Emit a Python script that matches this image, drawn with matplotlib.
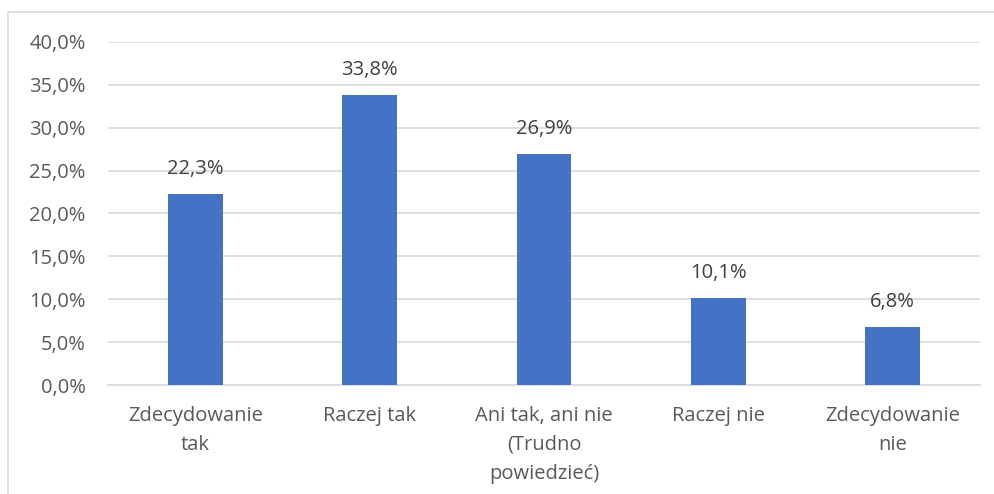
import matplotlib.pyplot as plt
from matplotlib.patches import Rectangle
from matplotlib.ticker import FuncFormatter

categories = ["Zdecydowanie\ntak", "Raczej tak", "Ani tak, ani nie\n(Trudno\npowiedzieć)",
              "Raczej nie", "Zdecydowanie\nnie"]
values = [22.3, 33.8, 26.9, 10.1, 6.8]
yticks = [0, 5, 10, 15, 20, 25, 30, 35, 40]

W, H = 995, 494
plt.rcParams['font.family'] = ['Open Sans', 'DejaVu Sans']
FS = 14.5

fig = plt.figure(figsize=(W / 100, H / 100), dpi=100)
ax = fig.add_axes([108 / W, 1 - 385 / H, (980 - 108) / W, (385 - 42) / H])

# chart border (cut off on right and bottom in the reference)
fig.patches.append(Rectangle((8 / W, -0.1), 1.2, 1 - 12 / H + 0.1, transform=fig.transFigure,
                             fill=False, edgecolor='#D9D9D9', linewidth=1.2))

x = range(len(values))
ax.bar(x, values, width=0.315, color='#4472C4', zorder=3)
for i, v in enumerate(values):
    ax.text(i, v + 1.75, f"{v:.1f}%".replace('.', ','), ha='center', va='bottom',
            fontsize=FS, color='#404040')

ax.set_xlim(-0.5, len(values) - 0.5)
ax.set_ylim(0, 40)
ax.set_yticks(yticks)
ax.yaxis.set_major_formatter(FuncFormatter(lambda v, p: f"{v:.1f}%".replace('.', ',')))
ax.set_xticks(list(x))
ax.set_xticklabels(categories, linespacing=1.6)
ax.grid(axis='y', color='#D9D9D9', linewidth=1.2, zorder=0)
for s in ['top', 'right', 'left']:
    ax.spines[s].set_visible(False)
ax.spines['bottom'].set_color('#D9D9D9')
ax.spines['bottom'].set_linewidth(1.2)
ax.tick_params(length=0, labelsize=FS, colors='#595959')
ax.tick_params(axis='y', pad=16)
ax.tick_params(axis='x', pad=15)

fig.savefig('out.png', dpi=100)
